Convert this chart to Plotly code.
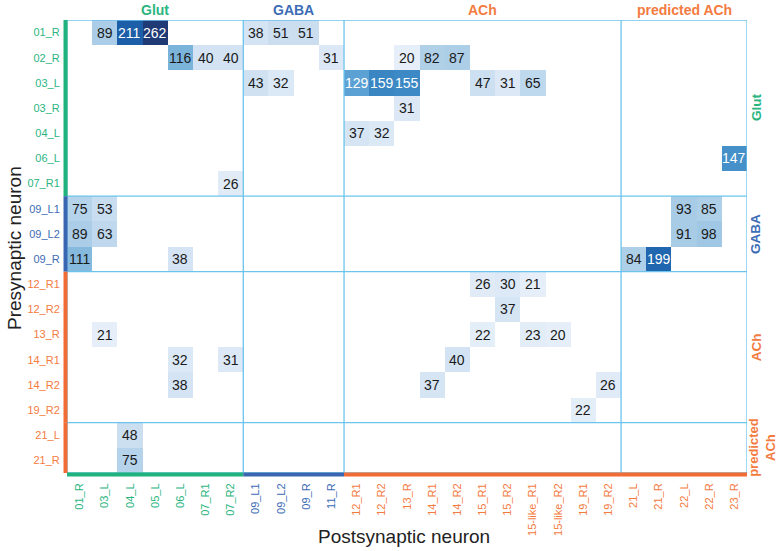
import plotly.graph_objects as go

# ---- data ----
post_labels = ["01_R", "03_L", "04_L", "05_L", "06_L", "07_R1", "07_R2",
               "09_L1", "09_L2", "09_R", "11_R",
               "12_R1", "12_R2", "13_R", "14_R1", "14_R2", "15_R1", "15_R2",
               "15-like_R1", "15-like_R2", "19_R1", "19_R2",
               "21_L", "21_R", "22_L", "22_R", "23_R"]
post_groups = ["Glut"] * 7 + ["GABA"] * 4 + ["ACh"] * 11 + ["predicted ACh"] * 5

pre_labels = ["01_R", "02_R", "03_L", "03_R", "04_L", "06_L", "07_R1",
              "09_L1", "09_L2", "09_R",
              "12_R1", "12_R2", "13_R", "14_R1", "14_R2", "19_R2",
              "21_L", "21_R"]
pre_groups = ["Glut"] * 7 + ["GABA"] * 3 + ["ACh"] * 6 + ["predicted ACh"] * 2

# connections: (presynaptic, postsynaptic, synapse count)
conn_pre = ["01_R", "01_R", "01_R", "01_R", "01_R", "01_R",
            "02_R", "02_R", "02_R", "02_R", "02_R", "02_R", "02_R",
            "03_L", "03_L", "03_L", "03_L", "03_L", "03_L", "03_L", "03_L",
            "03_R", "04_L", "04_L", "06_L", "07_R1",
            "09_L1", "09_L1", "09_L1", "09_L1",
            "09_L2", "09_L2", "09_L2", "09_L2",
            "09_R", "09_R", "09_R", "09_R",
            "12_R1", "12_R1", "12_R1", "12_R2",
            "13_R", "13_R", "13_R", "13_R",
            "14_R1", "14_R1", "14_R1",
            "14_R2", "14_R2", "14_R2",
            "19_R2", "21_L", "21_R"]
conn_post = ["03_L", "04_L", "05_L", "09_L1", "09_L2", "09_R",
             "06_L", "07_R1", "07_R2", "11_R", "13_R", "14_R1", "14_R2",
             "09_L1", "09_L2", "12_R1", "12_R2", "13_R", "15_R1", "15_R2", "15-like_R1",
             "13_R", "12_R1", "12_R2", "23_R", "07_R2",
             "01_R", "03_L", "22_L", "22_R",
             "01_R", "03_L", "22_L", "22_R",
             "01_R", "06_L", "21_L", "21_R",
             "15_R1", "15_R2", "15-like_R1", "15_R2",
             "03_L", "15_R1", "15-like_R1", "15-like_R2",
             "06_L", "07_R2", "14_R2",
             "06_L", "14_R1", "19_R2",
             "19_R1", "04_L", "04_L"]
conn_val = [89, 211, 262, 38, 51, 51,
            116, 40, 40, 31, 20, 82, 87,
            43, 32, 129, 159, 155, 47, 31, 65,
            31, 37, 32, 147, 26,
            75, 53, 93, 85,
            89, 63, 91, 98,
            111, 38, 84, 199,
            26, 30, 21, 37,
            21, 22, 23, 20,
            32, 31, 40,
            38, 37, 26,
            22, 48, 75]

group_names = ["Glut", "GABA", "ACh", "predicted ACh"]
group_colors = {"Glut": "#1fb27c", "GABA": "#3a66b1", "ACh": "#f26b32", "predicted ACh": "#f26b32"}
label_colors = {"Glut": "#2bb57f", "GABA": "#3d6cb6", "ACh": "#f47b3f", "predicted ACh": "#f47b3f"}

# ---- matrix ----
z = [[None] * len(post_labels) for _ in pre_labels]
for p, q, v in zip(conn_pre, conn_post, conn_val):
    z[pre_labels.index(p)][post_labels.index(q)] = v

vmin, vmax = 20, 262
stops = [(20, "#e6eff9"), (40, "#d3e3f3"), (75, "#b5d3ea"), (95, "#a6cae5"),
         (115, "#7db5dc"), (130, "#5aa0d3"), (155, "#3d89c5"), (200, "#1f66b0"),
         (211, "#1c5ea8"), (262, "#1f3a75")]
colorscale = [[(v - vmin) / (vmax - vmin), c] for v, c in stops]

xi = list(range(len(post_labels)))
yi = list(range(len(pre_labels)))

FONT = "Liberation Sans, Arial, sans-serif"

fig = go.Figure(go.Heatmap(
    z=z, x=xi, y=yi, colorscale=colorscale, zmin=vmin, zmax=vmax,
    showscale=False, hoverongaps=False, xgap=0, ygap=0,
))

annotations = []
for p, q, v in zip(conn_pre, conn_post, conn_val):
    annotations.append(dict(
        x=post_labels.index(q), y=pre_labels.index(p), xref="x", yref="y",
        text=str(v), showarrow=False,
        font=dict(size=14, color="white" if v >= 125 else "#1a1a1a", family=FONT),
    ))

shapes = []
grid_color = "#6cc4ec"


def bounds(groups, name):
    idx = [i for i, g in enumerate(groups) if g == name]
    return idx[0] - 0.5, idx[-1] + 0.5


# group separators
for name in group_names[1:]:
    a, _ = bounds(post_groups, name)
    shapes.append(dict(type="line", xref="x", yref="y", x0=a, x1=a, y0=-0.5,
                       y1=len(pre_labels) - 0.5, line=dict(color=grid_color, width=1.3)))
    a, _ = bounds(pre_groups, name)
    shapes.append(dict(type="line", xref="x", yref="y", y0=a, y1=a, x0=-0.5,
                       x1=len(post_labels) - 0.5, line=dict(color=grid_color, width=1.3)))
shapes.append(dict(type="rect", xref="x", yref="y", x0=-0.5, x1=len(post_labels) - 0.5,
                   y0=-0.5, y1=len(pre_labels) - 0.5, line=dict(color=grid_color, width=1.3)))

# plot area in page pixels (page body margin removed via post_script)
PX0, PX1, PY0, PY1 = 67, 747, 20, 473
W, H = 777, 551
L, R, T, B = PX0, W - PX1, PY0, H - PY1
PW, PH = PX1 - PX0, PY1 - PY0


def px(xpage):
    return (xpage - PX0) / PW


def py(ypage):
    return (PY1 - ypage) / PH


# colored group bars + group titles
for name in group_names:
    a, b = bounds(pre_groups, name)
    shapes.append(dict(type="line", xref="paper", yref="y", x0=px(65.5), x1=px(65.5),
                       y0=a, y1=b, line=dict(color=group_colors[name], width=4)))
    is_two = " " in name
    annotations.append(dict(
        xref="paper", yref="y", x=px(762 if is_two else 756), y=(a + b) / 2,
        xanchor="center", yanchor="middle",
        text=name.replace(" ", "<br>"), textangle=-90, showarrow=False,
        font=dict(size=13 if is_two else 13.5, color=label_colors[name], family=FONT, weight="bold"),
    ))
    a, b = bounds(post_groups, name)
    shapes.append(dict(type="line", xref="x", yref="paper", x0=a, x1=b, y0=py(474.5), y1=py(474.5),
                       line=dict(color=group_colors[name], width=4)))
    annotations.append(dict(
        xref="x", yref="paper", x=(a + b) / 2, y=py(10), xanchor="center", yanchor="middle",
        text=name, showarrow=False,
        font=dict(size=14, color=label_colors[name], family=FONT, weight="bold"),
    ))

# axis titles
annotations.append(dict(xref="paper", yref="paper", x=px(14), y=py(248),
                        xanchor="center", yanchor="middle", textangle=-90, showarrow=False,
                        text="Presynaptic neuron", font=dict(size=19, color="#222", family=FONT)))
annotations.append(dict(xref="paper", yref="paper", x=px(404), y=py(536),
                        xanchor="center", yanchor="middle", showarrow=False,
                        text="Postsynaptic neuron", font=dict(size=19, color="#222", family=FONT)))

fig.update_layout(
    width=W, height=H,
    margin=dict(l=L, r=R, t=T, b=B, autoexpand=False),
    plot_bgcolor="white", paper_bgcolor="white",
    font=dict(family=FONT),
    shapes=shapes, annotations=annotations,
    xaxis=dict(
        tickmode="array", tickvals=xi,
        ticktext=[f"<span style='color:{label_colors[g]}'>{t}</span>" for t, g in zip(post_labels, post_groups)],
        tickangle=-90, tickfont=dict(size=11), showgrid=False, zeroline=False,
        range=[-0.5, len(post_labels) - 0.5], ticks="outside", ticklen=5,
        tickcolor="rgba(0,0,0,0)", automargin=False,
    ),
    yaxis=dict(
        tickmode="array", tickvals=yi,
        ticktext=[f"<span style='color:{label_colors[g]}'>{t}</span>" for t, g in zip(pre_labels, pre_groups)],
        tickfont=dict(size=11), showgrid=False, zeroline=False,
        range=[len(pre_labels) - 0.5, -0.5], ticks="outside", ticklen=4,
        tickcolor="rgba(0,0,0,0)", automargin=False,
    ),
)

fig.write_html(
    "out.html",
    config={"displayModeBar": False},
    post_script="document.body.style.margin='0px';document.body.style.overflow='hidden';",
)
